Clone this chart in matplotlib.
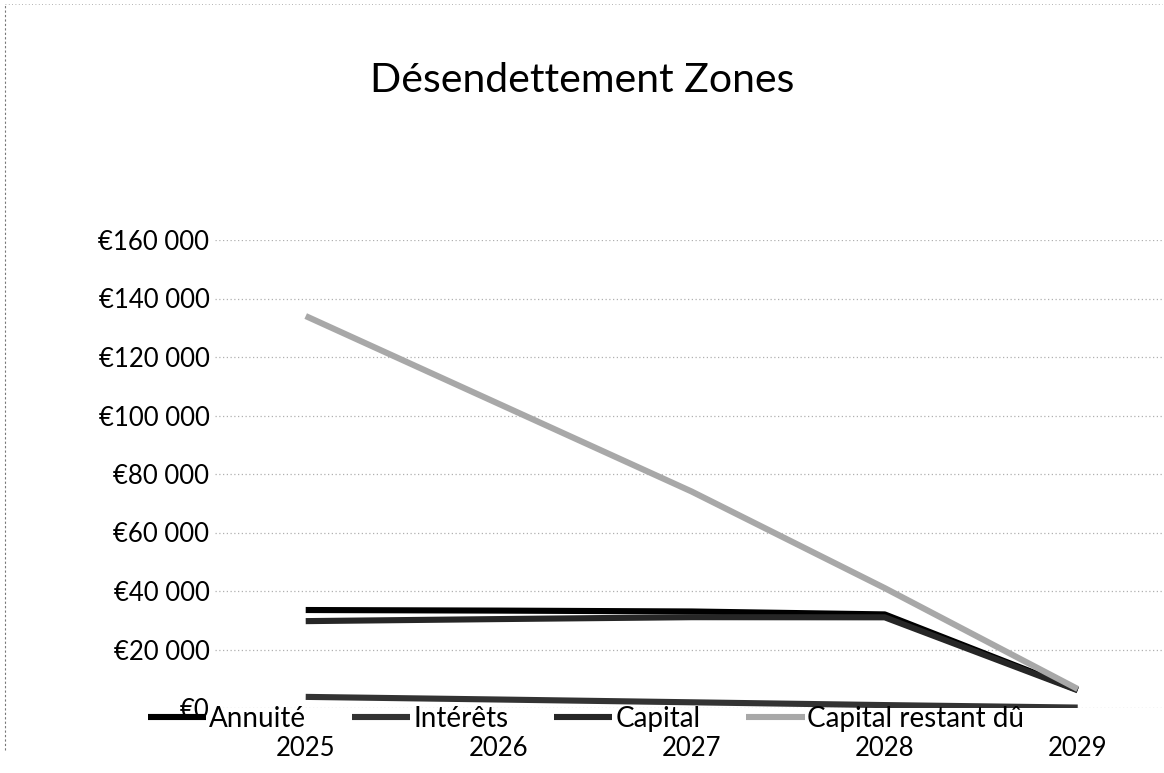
import matplotlib
matplotlib.use('Agg')
import matplotlib.pyplot as plt
from matplotlib.ticker import FuncFormatter

years = ['2025', '2026', '2027', '2028', '2029']
annuite = [33500, 33300, 33000, 32000, 6200]
interets = [3800, 2900, 1950, 1000, 150]
capital = [29700, 30400, 31050, 31000, 6050]
capital_restant = [134000, 104000, 74000, 41000, 6500]

series = [
    ('Annuité', annuite, '#000000'),
    ('Intérêts', interets, '#333333'),
    ('Capital', capital, '#262626'),
    ('Capital restant dû', capital_restant, '#a8a8a8'),
]

plt.rcParams['font.family'] = ['Lato', 'DejaVu Sans']

fig = plt.figure(figsize=(11.64, 7.73), dpi=100)
ax = fig.add_axes([215 / 1164, 1 - 708 / 773, 965 / 1164, (708 - 240) / 773])

x = list(range(len(years)))
for name, vals, col in series:
    ax.plot(x, vals, color=col, lw=4.4, label=name, solid_capstyle='butt')

ax.set_xlim(-0.47, 4.53)
ax.set_ylim(0, 160000)
ax.set_yticks(range(0, 160001, 20000))
ax.yaxis.set_major_formatter(FuncFormatter(
    lambda v, p: '€' + f'{int(v):,}'.replace(',', ' ')))
ax.set_xticks(x)
ax.set_xticklabels(years)
ax.tick_params(axis='y', length=0, pad=4, labelsize=18.5)
ax.tick_params(axis='x', length=0, pad=20, labelsize=18.5)
ax.grid(axis='y', color='#b0b0b0', linestyle=(0, (1, 2)), lw=0.9)
ax.set_axisbelow(True)
for s in ax.spines.values():
    s.set_visible(False)

fig.text(0.5, 1 - 80 / 773, 'Désendettement Zones', ha='center', va='center',
         fontsize=29.5)

fig.legend(loc='center left', bbox_to_anchor=(148 / 1164, 1 - 719 / 773),
           ncol=4, frameon=False, fontsize=20, handlelength=2.1,
           handletextpad=0.1, columnspacing=1.65, borderaxespad=0,
           borderpad=0)

# faint scan border
fig.add_artist(plt.Line2D([0.004, 0.004], [0.03, 0.995], color='#777777',
                          lw=0.8, linestyle=(0, (2, 2)), transform=fig.transFigure))
fig.add_artist(plt.Line2D([0.004, 0.998], [0.995, 0.995], color='#999999',
                          lw=0.6, linestyle=(0, (1, 3)), transform=fig.transFigure))

fig.savefig('out.png', dpi=100)
